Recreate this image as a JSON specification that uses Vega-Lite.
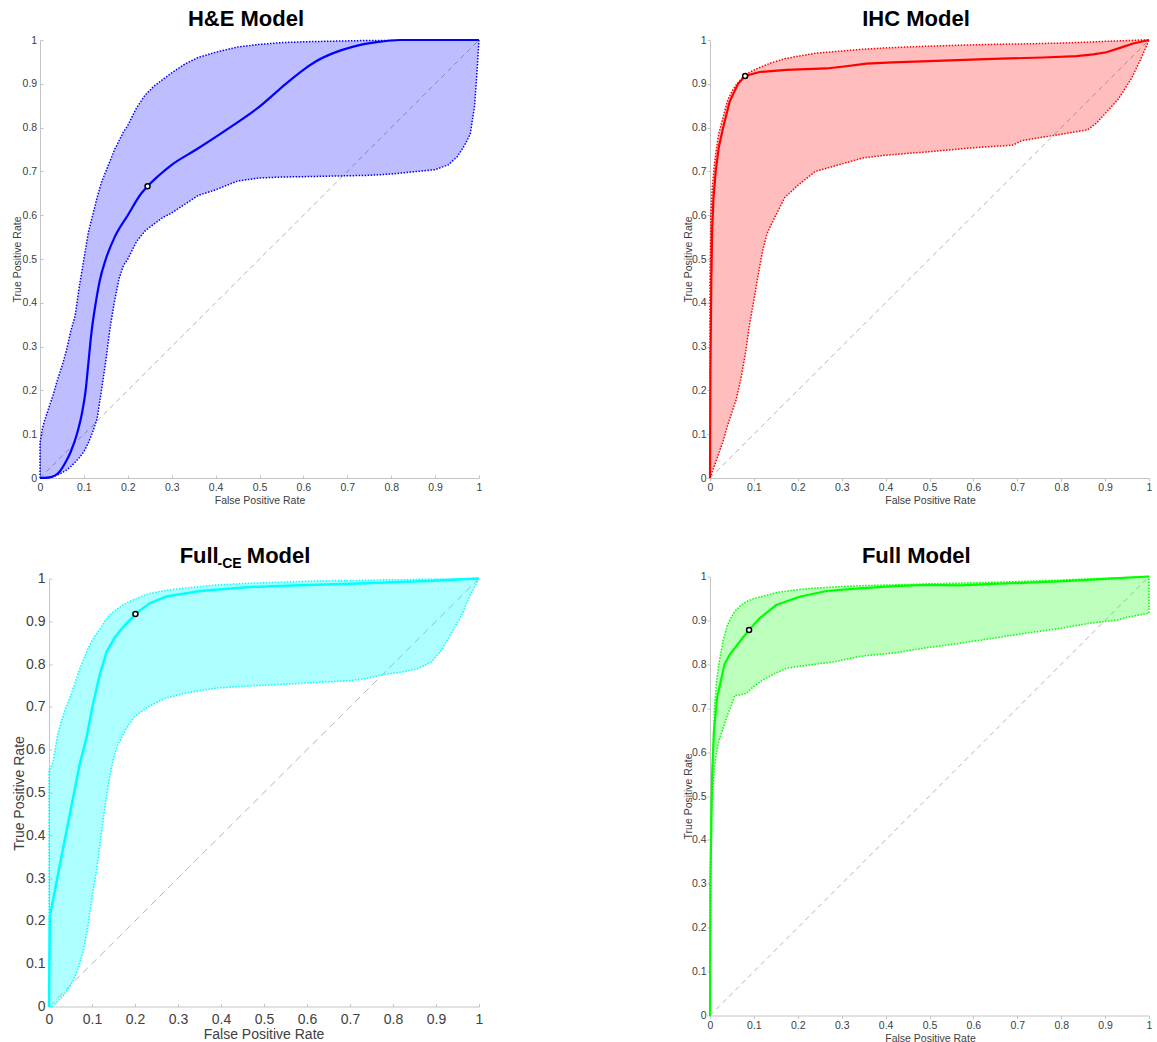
{
  "$schema": "https://vega.github.io/schema/vega-lite/v6.json",
  "padding": {"left": 12, "top": 8, "right": 5, "bottom": 5},
  "background": "white",
  "config": {
    "view": {"stroke": null},
    "font": "Liberation Sans",
    "axis": {"grid": false, "domainColor": "#c4c4c4", "tickColor": "#c4c4c4", "labelColor": "#404040", "titleColor": "#404040", "labelFont": "Liberation Sans", "titleFont": "Liberation Sans", "labelFontSize": 10.5, "titleFontSize": 10.5, "titleFontWeight": "normal", "labelFlush": false, "labelOverlap": false, "labelBound": false, "titleBaseline": "alphabetic", "titleAlign": "center"},
    "axisX": {"labelBaseline": "alphabetic"},
    "title": {"font": "Liberation Sans", "fontSize": 22, "fontWeight": "bold", "color": "black", "anchor": "middle", "frame": "group", "baseline": "alphabetic"}
  },
  "datasets": {
    "diag": [{"x": 0, "y": 0}, {"x": 1, "y": 1}],
    "he_band": [
      {"x":0,"lo":0,"hi":0},{"x":0,"lo":0,"hi":0.08},{"x":0.005,"lo":0,"hi":0.11},{"x":0.01,"lo":0.001,"hi":0.13},{"x":0.02,"lo":0.002,"hi":0.16},{"x":0.03,"lo":0.004,"hi":0.19},{"x":0.04,"lo":0.007,"hi":0.225},{"x":0.05,"lo":0.012,"hi":0.255},{"x":0.06,"lo":0.018,"hi":0.29},{"x":0.07,"lo":0.026,"hi":0.335},{"x":0.08,"lo":0.036,"hi":0.37},{"x":0.09,"lo":0.047,"hi":0.44},{"x":0.1,"lo":0.06,"hi":0.5},{"x":0.11,"lo":0.08,"hi":0.56},{"x":0.12,"lo":0.105,"hi":0.6},{"x":0.13,"lo":0.135,"hi":0.64},{"x":0.14,"lo":0.2,"hi":0.675},{"x":0.15,"lo":0.268,"hi":0.7},{"x":0.16,"lo":0.345,"hi":0.725},{"x":0.17,"lo":0.405,"hi":0.75},{"x":0.18,"lo":0.455,"hi":0.77},{"x":0.19,"lo":0.485,"hi":0.79},{"x":0.2,"lo":0.5,"hi":0.805},{"x":0.22,"lo":0.54,"hi":0.845},{"x":0.24,"lo":0.565,"hi":0.875},{"x":0.26,"lo":0.58,"hi":0.895},{"x":0.28,"lo":0.595,"hi":0.91},{"x":0.3,"lo":0.605,"hi":0.925},{"x":0.33,"lo":0.625,"hi":0.945},{"x":0.36,"lo":0.645,"hi":0.96},{"x":0.4,"lo":0.658,"hi":0.972},{"x":0.45,"lo":0.678,"hi":0.984},{"x":0.5,"lo":0.685,"hi":0.99},{"x":0.55,"lo":0.687,"hi":0.994},{"x":0.6,"lo":0.688,"hi":0.996},{"x":0.65,"lo":0.689,"hi":0.997},{"x":0.7,"lo":0.69,"hi":0.998},{"x":0.75,"lo":0.691,"hi":0.999},{"x":0.8,"lo":0.694,"hi":0.999},{"x":0.85,"lo":0.699,"hi":1},{"x":0.9,"lo":0.704,"hi":1},{"x":0.93,"lo":0.715,"hi":1},{"x":0.95,"lo":0.733,"hi":1},{"x":0.96,"lo":0.748,"hi":1},{"x":0.97,"lo":0.765,"hi":1},{"x":0.98,"lo":0.785,"hi":1},{"x":0.99,"lo":0.85,"hi":1},{"x":0.995,"lo":0.92,"hi":1},{"x":1,"lo":1,"hi":1}
    ],
    "he_mean": [
      {"x":0,"y":0},{"x":0.02,"y":0.001},{"x":0.035,"y":0.006},{"x":0.045,"y":0.015},{"x":0.056,"y":0.032},{"x":0.07,"y":0.06},{"x":0.084,"y":0.1},{"x":0.095,"y":0.145},{"x":0.104,"y":0.2},{"x":0.11,"y":0.26},{"x":0.117,"y":0.33},{"x":0.127,"y":0.4},{"x":0.136,"y":0.45},{"x":0.15,"y":0.5},{"x":0.17,"y":0.55},{"x":0.2,"y":0.6},{"x":0.231,"y":0.65},{"x":0.245,"y":0.666},{"x":0.27,"y":0.69},{"x":0.3,"y":0.715},{"x":0.356,"y":0.75},{"x":0.432,"y":0.8},{"x":0.5,"y":0.848},{"x":0.56,"y":0.9},{"x":0.6,"y":0.932},{"x":0.63,"y":0.952},{"x":0.668,"y":0.97},{"x":0.714,"y":0.985},{"x":0.767,"y":0.995},{"x":0.82,"y":1},{"x":1,"y":1}
    ],
    "he_pt": [{"x":0.245,"y":0.666}],
    "ihc_band": [
      {"x":0,"lo":0,"hi":0},{"x":0,"lo":0,"hi":0.45},{"x":0.002,"lo":0.006,"hi":0.6},{"x":0.005,"lo":0.014,"hi":0.66},{"x":0.01,"lo":0.028,"hi":0.715},{"x":0.015,"lo":0.042,"hi":0.755},{"x":0.02,"lo":0.056,"hi":0.786},{"x":0.03,"lo":0.085,"hi":0.824},{"x":0.04,"lo":0.12,"hi":0.862},{"x":0.05,"lo":0.15,"hi":0.883},{"x":0.06,"lo":0.18,"hi":0.898},{"x":0.07,"lo":0.225,"hi":0.91},{"x":0.08,"lo":0.28,"hi":0.92},{"x":0.09,"lo":0.35,"hi":0.926},{"x":0.1,"lo":0.406,"hi":0.931},{"x":0.11,"lo":0.465,"hi":0.936},{"x":0.12,"lo":0.52,"hi":0.94},{"x":0.13,"lo":0.558,"hi":0.944},{"x":0.14,"lo":0.58,"hi":0.948},{"x":0.15,"lo":0.6,"hi":0.951},{"x":0.17,"lo":0.64,"hi":0.957},{"x":0.2,"lo":0.668,"hi":0.963},{"x":0.24,"lo":0.7,"hi":0.97},{"x":0.3,"lo":0.717,"hi":0.975},{"x":0.35,"lo":0.731,"hi":0.979},{"x":0.4,"lo":0.737,"hi":0.982},{"x":0.5,"lo":0.745,"hi":0.986},{"x":0.6,"lo":0.754,"hi":0.989},{"x":0.69,"lo":0.76,"hi":0.991},{"x":0.71,"lo":0.77,"hi":0.991},{"x":0.8,"lo":0.785,"hi":0.993},{"x":0.86,"lo":0.795,"hi":0.995},{"x":0.88,"lo":0.81,"hi":0.996},{"x":0.9,"lo":0.832,"hi":0.997},{"x":0.93,"lo":0.865,"hi":0.998},{"x":0.96,"lo":0.912,"hi":0.999},{"x":0.98,"lo":0.954,"hi":1},{"x":0.995,"lo":0.988,"hi":1},{"x":1,"lo":1,"hi":1}
    ],
    "ihc_mean": [
      {"x":0,"y":0},{"x":0.001,"y":0.25},{"x":0.003,"y":0.45},{"x":0.005,"y":0.57},{"x":0.008,"y":0.64},{"x":0.013,"y":0.7},{"x":0.02,"y":0.755},{"x":0.03,"y":0.8},{"x":0.045,"y":0.86},{"x":0.064,"y":0.9},{"x":0.08,"y":0.918},{"x":0.113,"y":0.927},{"x":0.174,"y":0.932},{"x":0.265,"y":0.935},{"x":0.31,"y":0.94},{"x":0.356,"y":0.946},{"x":0.417,"y":0.949},{"x":0.531,"y":0.953},{"x":0.645,"y":0.957},{"x":0.759,"y":0.96},{"x":0.835,"y":0.963},{"x":0.873,"y":0.967},{"x":0.903,"y":0.972},{"x":0.934,"y":0.982},{"x":0.964,"y":0.992},{"x":1,"y":1}
    ],
    "ihc_pt": [{"x":0.08,"y":0.918}],
    "fce_band": [
      {"x":0,"lo":0,"hi":0},{"x":0,"lo":0,"hi":0.55},{"x":0.005,"lo":0,"hi":0.56},{"x":0.01,"lo":0.002,"hi":0.575},{"x":0.02,"lo":0.012,"hi":0.635},{"x":0.03,"lo":0.022,"hi":0.67},{"x":0.04,"lo":0.034,"hi":0.7},{"x":0.05,"lo":0.05,"hi":0.725},{"x":0.06,"lo":0.068,"hi":0.755},{"x":0.07,"lo":0.095,"hi":0.785},{"x":0.08,"lo":0.13,"hi":0.81},{"x":0.09,"lo":0.185,"hi":0.835},{"x":0.1,"lo":0.253,"hi":0.855},{"x":0.11,"lo":0.315,"hi":0.87},{"x":0.12,"lo":0.39,"hi":0.884},{"x":0.13,"lo":0.465,"hi":0.9},{"x":0.14,"lo":0.53,"hi":0.914},{"x":0.15,"lo":0.58,"hi":0.922},{"x":0.16,"lo":0.612,"hi":0.93},{"x":0.18,"lo":0.65,"hi":0.943},{"x":0.2,"lo":0.678,"hi":0.952},{"x":0.23,"lo":0.7,"hi":0.964},{"x":0.27,"lo":0.72,"hi":0.972},{"x":0.32,"lo":0.733,"hi":0.978},{"x":0.39,"lo":0.744,"hi":0.985},{"x":0.47,"lo":0.749,"hi":0.989},{"x":0.55,"lo":0.753,"hi":0.992},{"x":0.62,"lo":0.757,"hi":0.994},{"x":0.7,"lo":0.761,"hi":0.995},{"x":0.74,"lo":0.767,"hi":0.996},{"x":0.78,"lo":0.776,"hi":0.997},{"x":0.82,"lo":0.781,"hi":0.997},{"x":0.86,"lo":0.79,"hi":0.998},{"x":0.89,"lo":0.806,"hi":0.998},{"x":0.91,"lo":0.829,"hi":0.999},{"x":0.93,"lo":0.862,"hi":0.999},{"x":0.96,"lo":0.915,"hi":1},{"x":0.98,"lo":0.962,"hi":1},{"x":1,"lo":1,"hi":1}
    ],
    "fce_mean": [
      {"x":0,"y":0},{"x":0.002,"y":0.21},{"x":0.025,"y":0.33},{"x":0.048,"y":0.447},{"x":0.071,"y":0.564},{"x":0.087,"y":0.627},{"x":0.102,"y":0.705},{"x":0.118,"y":0.775},{"x":0.134,"y":0.829},{"x":0.153,"y":0.862},{"x":0.172,"y":0.886},{"x":0.201,"y":0.917},{"x":0.234,"y":0.942},{"x":0.273,"y":0.958},{"x":0.351,"y":0.971},{"x":0.467,"y":0.98},{"x":0.584,"y":0.984},{"x":0.739,"y":0.989},{"x":0.894,"y":0.995},{"x":1,"y":1}
    ],
    "fce_pt": [{"x":0.201,"y":0.917}],
    "fce_sub": [{"label":"-CE"}],
    "full_band": [
      {"x":0,"lo":0,"hi":0},{"x":0,"lo":0,"hi":0.3},{"x":0.002,"lo":0.34,"hi":0.42},{"x":0.005,"lo":0.495,"hi":0.55},{"x":0.01,"lo":0.565,"hi":0.7},{"x":0.015,"lo":0.6,"hi":0.76},{"x":0.02,"lo":0.625,"hi":0.8},{"x":0.03,"lo":0.655,"hi":0.855},{"x":0.04,"lo":0.685,"hi":0.89},{"x":0.05,"lo":0.71,"hi":0.91},{"x":0.056,"lo":0.729,"hi":0.92},{"x":0.068,"lo":0.73,"hi":0.932},{"x":0.083,"lo":0.734,"hi":0.943},{"x":0.1,"lo":0.75,"hi":0.95},{"x":0.12,"lo":0.764,"hi":0.955},{"x":0.15,"lo":0.78,"hi":0.963},{"x":0.175,"lo":0.791,"hi":0.967},{"x":0.2,"lo":0.795,"hi":0.97},{"x":0.23,"lo":0.799,"hi":0.973},{"x":0.28,"lo":0.805,"hi":0.976},{"x":0.34,"lo":0.818,"hi":0.979},{"x":0.42,"lo":0.826,"hi":0.981},{"x":0.49,"lo":0.837,"hi":0.983},{"x":0.57,"lo":0.848,"hi":0.985},{"x":0.65,"lo":0.86,"hi":0.987},{"x":0.72,"lo":0.871,"hi":0.989},{"x":0.8,"lo":0.882,"hi":0.992},{"x":0.87,"lo":0.894,"hi":0.995},{"x":0.93,"lo":0.901,"hi":0.997},{"x":0.95,"lo":0.907,"hi":0.998},{"x":0.997,"lo":0.916,"hi":1},{"x":1,"lo":0.916,"hi":1},{"x":1,"lo":1,"hi":1}
    ],
    "full_mean": [
      {"x":0,"y":0},{"x":0.001,"y":0.3},{"x":0.003,"y":0.45},{"x":0.005,"y":0.55},{"x":0.009,"y":0.647},{"x":0.016,"y":0.723},{"x":0.033,"y":0.8},{"x":0.045,"y":0.822},{"x":0.068,"y":0.852},{"x":0.089,"y":0.878},{"x":0.113,"y":0.905},{"x":0.151,"y":0.935},{"x":0.204,"y":0.954},{"x":0.265,"y":0.967},{"x":0.341,"y":0.973},{"x":0.42,"y":0.978},{"x":0.493,"y":0.981},{"x":0.569,"y":0.98},{"x":0.645,"y":0.983},{"x":0.797,"y":0.989},{"x":0.911,"y":0.995},{"x":1,"y":1}
    ],
    "full_pt": [{"x":0.089,"y":0.878}]
  },
  "spacing": 38.5,
  "bounds": "full",
  "vconcat": [
    {
      "spacing": 231,
      "bounds": "flush",
      "hconcat": [
        {
          "width": 439, "height": 438,
          "title": {"text": "H&E Model", "dx": -13.5, "offset": 4},
          "encoding": {"x": {"field": "x", "type": "quantitative", "scale": {"domain": [0, 1], "nice": false, "zero": false}, "axis": {"title": "False Positive Rate", "values": [0,0.1,0.2,0.3,0.4,0.5,0.6,0.7,0.8,0.9,1], "format": "~g", "tickSize": -3, "labelPadding": 15.7, "titleX": 219.5, "titleY": 25.5}}},
          "layer": [
            {"data": {"name": "diag"}, "mark": {"type": "line", "color": "#b4b4b4", "strokeWidth": 1, "strokeDash": [5, 4]}, "encoding": {"y": {"field": "y", "type": "quantitative", "scale": {"domain": [0, 1], "nice": false, "zero": false}, "axis": {"title": "True Positive Rate", "values": [0,0.1,0.2,0.3,0.4,0.5,0.6,0.7,0.8,0.9,1], "format": "~g", "tickSize": -3, "labelPadding": 6.3, "titleX": -19.3, "titleY": 219}}}},
            {"data": {"name": "he_band"}, "mark": {"type": "area", "color": "#0000ff", "opacity": 0.26}, "encoding": {"y": {"field": "lo", "type": "quantitative", "scale": {"domain": [0, 1], "nice": false, "zero": false}}, "y2": {"field": "hi"}}},
            {"data": {"name": "he_band"}, "mark": {"type": "line", "color": "#0000ff", "strokeWidth": 1.5, "strokeDash": [1.5, 1.5]}, "encoding": {"y": {"field": "lo", "type": "quantitative", "scale": {"domain": [0, 1], "nice": false, "zero": false}}}},
            {"data": {"name": "he_band"}, "mark": {"type": "line", "color": "#0000ff", "strokeWidth": 1.5, "strokeDash": [1.5, 1.5]}, "encoding": {"y": {"field": "hi", "type": "quantitative", "scale": {"domain": [0, 1], "nice": false, "zero": false}}}},
            {"data": {"name": "he_mean"}, "mark": {"type": "line", "color": "#0000ff", "strokeWidth": 2.2, "interpolate": "monotone"}, "encoding": {"y": {"field": "y", "type": "quantitative", "scale": {"domain": [0, 1], "nice": false, "zero": false}}}},
            {"data": {"name": "he_pt"}, "mark": {"type": "point", "shape": "circle", "size": 25, "fill": "white", "stroke": "black", "strokeWidth": 1.5, "opacity": 1, "fillOpacity": 1}, "encoding": {"y": {"field": "y", "type": "quantitative", "scale": {"domain": [0, 1], "nice": false, "zero": false}}}}
          ]
        },
        {
          "width": 439, "height": 438,
          "title": {"text": "IHC Model", "dx": -13.5, "offset": 4},
          "encoding": {"x": {"field": "x", "type": "quantitative", "scale": {"domain": [0, 1], "nice": false, "zero": false}, "axis": {"title": "False Positive Rate", "values": [0,0.1,0.2,0.3,0.4,0.5,0.6,0.7,0.8,0.9,1], "format": "~g", "tickSize": 3, "labelPadding": 9.7, "titleX": 220, "titleY": 25.3}}},
          "layer": [
            {"data": {"name": "diag"}, "mark": {"type": "line", "color": "#b4b4b4", "strokeWidth": 1, "strokeDash": [5, 4]}, "encoding": {"y": {"field": "y", "type": "quantitative", "scale": {"domain": [0, 1], "nice": false, "zero": false}, "axis": {"title": "True Positive Rate", "values": [0,0.1,0.2,0.3,0.4,0.5,0.6,0.7,0.8,0.9,1], "format": "~g", "tickSize": 3, "labelPadding": 1, "titleX": -18.3, "titleY": 219}}}},
            {"data": {"name": "ihc_band"}, "mark": {"type": "area", "color": "#ff0000", "opacity": 0.26}, "encoding": {"y": {"field": "lo", "type": "quantitative", "scale": {"domain": [0, 1], "nice": false, "zero": false}}, "y2": {"field": "hi"}}},
            {"data": {"name": "ihc_band"}, "mark": {"type": "line", "color": "#ff0000", "strokeWidth": 1.5, "strokeDash": [1.5, 1.5]}, "encoding": {"y": {"field": "lo", "type": "quantitative", "scale": {"domain": [0, 1], "nice": false, "zero": false}}}},
            {"data": {"name": "ihc_band"}, "mark": {"type": "line", "color": "#ff0000", "strokeWidth": 1.5, "strokeDash": [1.5, 1.5]}, "encoding": {"y": {"field": "hi", "type": "quantitative", "scale": {"domain": [0, 1], "nice": false, "zero": false}}}},
            {"data": {"name": "ihc_mean"}, "mark": {"type": "line", "color": "#ff0000", "strokeWidth": 2.2}, "encoding": {"y": {"field": "y", "type": "quantitative", "scale": {"domain": [0, 1], "nice": false, "zero": false}}}},
            {"data": {"name": "ihc_pt"}, "mark": {"type": "point", "shape": "circle", "size": 25, "fill": "white", "stroke": "black", "strokeWidth": 1.5, "opacity": 1, "fillOpacity": 1}, "encoding": {"y": {"field": "y", "type": "quantitative", "scale": {"domain": [0, 1], "nice": false, "zero": false}}}}
          ]
        }
      ]
    },
    {
      "spacing": 231,
      "bounds": "flush",
      "hconcat": [
        {
          "width": 439, "height": 439,
          "title": {"text": "Full\u2002\u2002 Model", "dx": -14.5, "offset": -10.5},
          "layer": [
            {"data": {"name": "diag"}, "mark": {"type": "line", "color": "#b4b4b4", "strokeWidth": 1, "strokeDash": [7, 5]}, "encoding": {"x": {"field": "x", "type": "quantitative", "scale": {"domain": [0, 1], "nice": false, "zero": false, "range": [9, 439]}, "axis": {"title": "False Positive Rate", "values": [0,0.1,0.2,0.3,0.4,0.5,0.6,0.7,0.8,0.9,1], "format": "~g", "tickSize": -3, "labelPadding": 20, "offset": -9, "titleX": 223.5, "titleY": 31.7, "labelFontSize": 14, "titleFontSize": 14}}, "y": {"field": "y", "type": "quantitative", "scale": {"domain": [0, 1], "nice": false, "zero": false, "range": [430, 2]}, "axis": {"title": "True Positive Rate", "values": [0,0.1,0.2,0.3,0.4,0.5,0.6,0.7,0.8,0.9,1], "format": "~g", "tickSize": -3, "labelPadding": 7, "offset": -9, "titleX": -25.5, "titleY": 216.5, "labelFontSize": 14, "titleFontSize": 14}}}},
            {"data": {"name": "fce_band"}, "mark": {"type": "area", "color": "#00ffff", "opacity": 0.32}, "encoding": {"x": {"field": "x", "type": "quantitative"}, "y": {"field": "lo", "type": "quantitative"}, "y2": {"field": "hi"}}},
            {"data": {"name": "fce_band"}, "mark": {"type": "line", "color": "#00ffff", "strokeWidth": 1.5, "strokeDash": [1.5, 1.5]}, "encoding": {"x": {"field": "x", "type": "quantitative"}, "y": {"field": "lo", "type": "quantitative"}}},
            {"data": {"name": "fce_band"}, "mark": {"type": "line", "color": "#00ffff", "strokeWidth": 1.5, "strokeDash": [1.5, 1.5]}, "encoding": {"x": {"field": "x", "type": "quantitative"}, "y": {"field": "hi", "type": "quantitative"}}},
            {"data": {"name": "fce_mean"}, "mark": {"type": "line", "color": "#00ffff", "strokeWidth": 2.5}, "encoding": {"x": {"field": "x", "type": "quantitative"}, "y": {"field": "y", "type": "quantitative"}}},
            {"data": {"name": "fce_pt"}, "mark": {"type": "point", "shape": "circle", "size": 25, "fill": "white", "stroke": "black", "strokeWidth": 1.5, "opacity": 1, "fillOpacity": 1}, "encoding": {"x": {"field": "x", "type": "quantitative"}, "y": {"field": "y", "type": "quantitative"}}},
            {"data": {"name": "fce_sub"}, "mark": {"type": "text", "fontSize": 14, "fontWeight": "bold", "color": "black", "align": "center", "baseline": "alphabetic"}, "encoding": {"x": {"datum": 0.42}, "y": {"datum": 1.024}, "text": {"field": "label"}}}
          ]
        },
        {
          "width": 439, "height": 439,
          "title": {"text": "Full Model", "dx": -13.2, "offset": 3.5},
          "encoding": {"x": {"field": "x", "type": "quantitative", "scale": {"domain": [0, 1], "nice": false, "zero": false}, "axis": {"title": "False Positive Rate", "values": [0,0.1,0.2,0.3,0.4,0.5,0.6,0.7,0.8,0.9,1], "format": "~g", "tickSize": 3, "labelPadding": 9.7, "titleX": 220, "titleY": 26}}},
          "layer": [
            {"data": {"name": "diag"}, "mark": {"type": "line", "color": "#b4b4b4", "strokeWidth": 1, "strokeDash": [5, 4]}, "encoding": {"y": {"field": "y", "type": "quantitative", "scale": {"domain": [0, 1], "nice": false, "zero": false}, "axis": {"title": "True Positive Rate", "values": [0,0.1,0.2,0.3,0.4,0.5,0.6,0.7,0.8,0.9,1], "format": "~g", "tickSize": 3, "labelPadding": 1, "titleX": -18.3, "titleY": 219.5}}}},
            {"data": {"name": "full_band"}, "mark": {"type": "area", "color": "#00ff00", "opacity": 0.26}, "encoding": {"y": {"field": "lo", "type": "quantitative", "scale": {"domain": [0, 1], "nice": false, "zero": false}}, "y2": {"field": "hi"}}},
            {"data": {"name": "full_band"}, "mark": {"type": "line", "color": "#00ff00", "strokeWidth": 1.5, "strokeDash": [1.5, 1.5]}, "encoding": {"y": {"field": "lo", "type": "quantitative", "scale": {"domain": [0, 1], "nice": false, "zero": false}}}},
            {"data": {"name": "full_band"}, "mark": {"type": "line", "color": "#00ff00", "strokeWidth": 1.5, "strokeDash": [1.5, 1.5]}, "encoding": {"y": {"field": "hi", "type": "quantitative", "scale": {"domain": [0, 1], "nice": false, "zero": false}}}},
            {"data": {"name": "full_mean"}, "mark": {"type": "line", "color": "#00ff00", "strokeWidth": 2.2}, "encoding": {"y": {"field": "y", "type": "quantitative", "scale": {"domain": [0, 1], "nice": false, "zero": false}}}},
            {"data": {"name": "full_pt"}, "mark": {"type": "point", "shape": "circle", "size": 25, "fill": "white", "stroke": "black", "strokeWidth": 1.5, "opacity": 1, "fillOpacity": 1}, "encoding": {"y": {"field": "y", "type": "quantitative", "scale": {"domain": [0, 1], "nice": false, "zero": false}}}}
          ]
        }
      ]
    }
  ]
}
